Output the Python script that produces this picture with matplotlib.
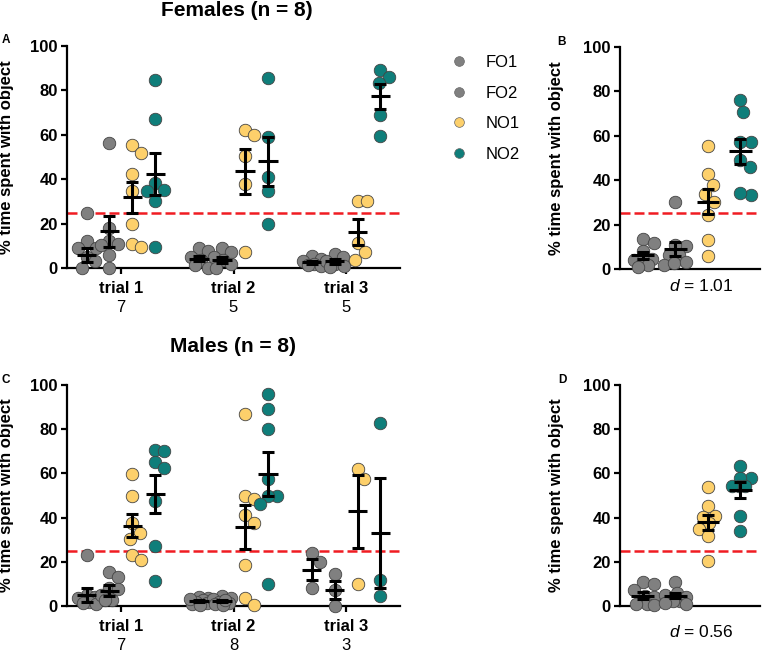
import numpy as np
import matplotlib
matplotlib.use("Agg")
import matplotlib.pyplot as plt
from matplotlib.lines import Line2D

plt.rcParams['font.family'] = ['Liberation Sans', 'DejaVu Sans']
plt.rcParams['mathtext.fontset'] = 'custom'
plt.rcParams['mathtext.it'] = 'Liberation Sans:italic'
plt.rcParams['mathtext.rm'] = 'Liberation Sans'

# groups and colours
groups = ['FO1', 'FO2', 'NO1', 'NO2']
colors = ['#808080', '#808080', '#fdd06b', '#0f7e7a']
trials = ['trial 1', 'trial 2', 'trial 3']

# Females per trial: points for each group, one list per trial
fem_n = ['7', '5', '5']
fem_trials = {
    'FO1': [[25, 12.3, 9.2, 9, 5, 3, 0],
            [9, 7.5, 5, 3.5, 1.5, 0],
            [5.2, 4, 3, 2, 1.5, 1]],
    'FO2': [[56.2, 17.9, 12, 11, 10.5, 6, 0],
            [9, 7, 5, 3.5, 2, 0],
            [6.5, 5, 3, 2, 1, 0.5]],
    'NO1': [[55.3, 52, 42.5, 34.5, 20, 11, 9.5],
            [62, 60, 50.5, 38, 7],
            [30, 30, 11.2, 7, 3.7]],
    'NO2': [[84.5, 67.2, 38.5, 35, 34.5, 30, 9.5],
            [85.6, 59, 40.9, 34.6, 19.8],
            [89, 86, 83.5, 69, 59.5]],
}
fem_trial_mean = {'FO1': [6, 4.2, 2.6], 'FO2': [16.5, 3.7, 3],
                  'NO1': [31.8, 43.5, 16.2], 'NO2': [42.4, 48, 77.4]}
fem_trial_sem = {'FO1': [3.2, 1.2, 0.6], 'FO2': [7, 1.3, 1],
                 'NO1': [6.8, 10.2, 5.8], 'NO2': [9.5, 11, 5.7]}

# Females overall
fem_all = {
    'FO1': [13.5, 11.7, 7.9, 4.2, 4.5, 4, 1.9, 0.9],
    'FO2': [30, 10.2, 10.9, 6.4, 6.5, 1.9, 2.7, 3],
    'NO1': [55.4, 42.8, 37.9, 33.8, 30.4, 24.4, 12.9, 6],
    'NO2': [76, 70.8, 57.3, 57.3, 49.1, 46.1, 33.4, 34.1],
}
fem_all_mean = [6.2, 9.0, 30.4, 53.0]
fem_all_sem = [1.6, 3.3, 5.7, 5.5]

# Males per trial
male_n = ['7', '8', '3']
male_trials = {
    'FO1': [[23, 5, 4, 3.5, 2, 1.5, 1],
            [4, 3.5, 2.5, 2, 1.5, 1, 0.5, 3],
            [24, 20, 8]],
    'FO2': [[15.5, 13.2, 8, 7.5, 5, 2.7, 2.5],
            [4.5, 3.5, 3, 2, 1.5, 1, 0.5, 2.5],
            [14.7, 7.2, 0]],
    'NO1': [[59.8, 49.7, 37.5, 33.2, 30.2, 23, 20.7],
            [86.8, 50, 48.5, 41.3, 37.5, 18.5, 3.5, 0.5],
            [62, 57.5, 9.8]],
    'NO2': [[70.7, 70.3, 65.3, 62.3, 47.3, 27, 11.4],
            [95.8, 89, 80, 57.5, 50, 50, 46, 9.8],
            [82.7, 11.7, 4.7]],
}
male_trial_mean = {'FO1': [5, 2.2, 16.5], 'FO2': [7, 2.3, 7.3],
                   'NO1': [36.3, 35.8, 42.8], 'NO2': [50.6, 59.8, 33]}
male_trial_sem = {'FO1': [3, 0.45, 4.9], 'FO2': [2.3, 0.5, 4.2],
                  'NO1': [5.3, 10, 16.7], 'NO2': [8.7, 9.8, 25]}

# Males overall
male_all = {
    'FO1': [11, 10, 7.2, 4.5, 4, 1, 0.5, 1],
    'FO2': [11, 5.7, 5, 2.4, 2.4, 1.2, 4.2, 1],
    'NO1': [53.8, 45.2, 40.7, 37.5, 40.2, 34.7, 31.7, 20.3],
    'NO2': [63.5, 58, 58, 54.2, 54.2, 54.2, 40.7, 33.8],
}
male_all_mean = [4.7, 4.7, 37.8, 52.3]
male_all_sem = [1.5, 1.2, 3.5, 3.6]

chance = 25
fem_d = '$d$ = 1.01'
male_d = '$d$ = 0.56'

W, H = 770, 653
fig = plt.figure(figsize=(W / 100, H / 100), dpi=100)

MARK_PX = 12.5


def swarm(ax, vals, center, maxw):
    # beeswarm in pixel space, spread limited to +-maxw px (points may overlap)
    bb = ax.get_window_extent()
    x0, x1 = ax.get_xlim()
    pxx = bb.width / (x1 - x0)
    pxy = bb.height / 100.0
    placed = []
    xs = np.zeros(len(vals))
    order = np.argsort(vals)[::-1]
    cands = [0.0]
    for k in range(1, 40):
        step = k * maxw / 39.0
        cands += [step, -step]
    for i in order:
        y = vals[i] * pxy
        best, best_d = 0.0, -1
        for c in cands:
            dmin = min([np.hypot(c - px, y - py) for px, py in placed] + [1e9])
            if dmin >= 0.95 * MARK_PX:
                best = c
                break
            if dmin > best_d + 0.5:
                best, best_d = c, dmin
        placed.append((best, y))
        xs[i] = center + best / pxx
    return xs


def style(ax, xlim):
    ax.set_xlim(*xlim)
    ax.set_ylim(0, 100)
    for s in ['top', 'right']:
        ax.spines[s].set_visible(False)
    for s in ['left', 'bottom']:
        ax.spines[s].set_linewidth(1.6)
    ax.set_yticks([0, 20, 40, 60, 80, 100])
    ax.tick_params(axis='both', width=1.6, length=4.5, labelsize=12, pad=2)
    ax.tick_params(axis='x', pad=5)
    for t in ax.get_yticklabels():
        t.set_fontweight('bold')
    ax.axhline(chance, color='#f01c22', lw=1.8, ls=(0, (4, 1.6)), zorder=2)
    ax.set_ylabel('% time spent with object', fontsize=12, fontweight='bold')


def draw_group(ax, vals, xc, mean, sem, color, hw, maxw):
    vals = np.array(vals, dtype=float)
    xs = swarm(ax, vals, xc, maxw)
    ax.scatter(xs, vals, s=(MARK_PX * 0.72) ** 2, color=color, edgecolor='#444444',
               linewidth=0.6, zorder=3, clip_on=False)
    ax.errorbar([xc], [mean], yerr=[sem], fmt='none', ecolor='black', elinewidth=2.2,
                capsize=4.3, capthick=2.2, zorder=4)
    ax.hlines(mean, xc - hw, xc + hw, color='black', lw=2.2, zorder=4)


centers = [0, 4.9, 9.8]
offsets = [-1.5, -0.5, 0.5, 1.5]


def trial_panel(ax, data, means, sems, ns):
    style(ax, (-2.35, 12.15))
    for ti, c in enumerate(centers):
        for gi, g in enumerate(groups):
            draw_group(ax, data[g][ti], c + offsets[gi], means[g][ti], sems[g][ti],
                       colors[gi], 0.43, 9)
    ax.set_xticks(centers)
    ax.set_xticklabels(trials, fontweight='bold', fontsize=12)
    for c, n in zip(centers, ns):
        ax.text(c, -0.18, n, transform=ax.get_xaxis_transform(), ha='center',
                va='center', fontsize=12)
    ax.yaxis.set_label_coords(-0.16, 0.5)


def all_panel(ax, data, means, sems, dtxt, dy):
    style(ax, (-0.7, 3.6))
    for gi, g in enumerate(groups):
        draw_group(ax, data[g], gi, means[gi], sems[gi], colors[gi], 0.35, 11)
    ax.set_xticks([])
    ax.text(0.58, dy, dtxt, transform=ax.transAxes, ha='center', va='center', fontsize=12.5)
    ax.yaxis.set_label_coords(-0.40, 0.5)


axA = fig.add_axes([67 / W, 1 - 268 / H, 333 / W, 222 / H])
axB = fig.add_axes([620 / W, 1 - 269 / H, 140 / W, 222 / H])
axC = fig.add_axes([67 / W, 1 - 606 / H, 333 / W, 221 / H])
axD = fig.add_axes([620 / W, 1 - 606 / H, 140 / W, 221 / H])

trial_panel(axA, fem_trials, fem_trial_mean, fem_trial_sem, fem_n)
trial_panel(axC, male_trials, male_trial_mean, male_trial_sem, male_n)
all_panel(axB, fem_all, fem_all_mean, fem_all_sem, fem_d, -0.075)
all_panel(axD, male_all, male_all_mean, male_all_sem, male_d, -0.118)

fig.text(237 / W, 1 - 11 / H, 'Females (n = 8)', ha='center', va='center',
         fontsize=15, fontweight='bold')
fig.text(233 / W, 1 - 347 / H, 'Males (n = 8)', ha='center', va='center',
         fontsize=15, fontweight='bold')
for lab, (px, py) in zip('ABCD', [(6, 40), (562, 42), (6, 380), (562, 380)]):
    fig.text(px / W, 1 - py / H, lab, ha='center', va='center', fontsize=8.5,
             fontweight='bold')

handles = [Line2D([], [], marker='o', ls='none', markersize=7, markerfacecolor=c,
                  markeredgecolor='#666666', markeredgewidth=0.5) for c in colors]
fig.legend(handles, groups, loc='upper left', bbox_to_anchor=(436 / W, 1 - 48 / H),
           frameon=False, fontsize=12, labelspacing=0.95, handletextpad=0.6,
           borderaxespad=0)

fig.savefig('out.png', dpi=100)
